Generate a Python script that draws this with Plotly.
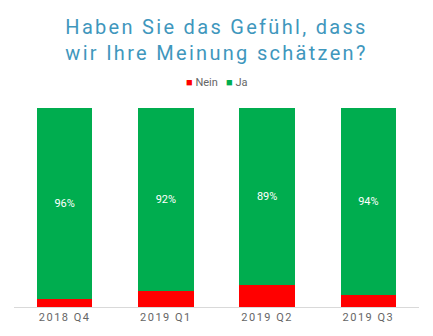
import plotly.graph_objects as go

quarters = ["2018 Q4", "2019 Q1", "2019 Q2", "2019 Q3"]
nein = [4, 8, 11, 6]
ja = [96, 92, 89, 94]
title_lines = ["Haben Sie das Gefühl, dass", "wir Ihre Meinung schätzen?"]

RED = "#ff0000"
GREEN = "#00ad4f"
GREY = "#666666"
TITLE_BLUE = "#3f97bd"


def spaced(text, px):
    return f'<span style="letter-spacing:{px}px">{text}</span>'


fig = go.Figure()
fig.add_trace(go.Bar(
    x=quarters, y=nein, name="Nein", marker=dict(color=RED, line=dict(width=0)),
    hoverinfo="skip", showlegend=False,
))
fig.add_trace(go.Bar(
    x=quarters, y=ja, name="Ja", marker=dict(color=GREEN, line=dict(width=0)),
    text=[f"{v}%" for v in ja], textposition="inside", insidetextanchor="middle",
    textfont=dict(color="white", size=11, family="Roboto"),
    hoverinfo="skip", showlegend=False,
))

# legend row drawn as coloured glyphs + labels
legend_text = (
    f'<span style="color:{RED}">■</span> Nein   '
    f'<span style="color:{GREEN}">■</span> Ja'
)

plot_h = 336 - 108 - 29

fig.update_layout(
    barmode="stack",
    bargap=0.45,
    width=433, height=336,
    margin=dict(l=14, r=14, t=108, b=29),
    paper_bgcolor="white", plot_bgcolor="white",
    font=dict(family="Roboto", color=GREY),
    title=dict(
        text="<br>".join(spaced(t, 2.3) for t in title_lines),
        x=0.5, xanchor="center", xref="paper",
        y=1 - 34 / 336, yanchor="middle", yref="container",
        font=dict(family="Roboto", size=20, color=TITLE_BLUE),
    ),
    annotations=[dict(
        text=legend_text, x=0.5, xref="paper", xanchor="center",
        y=1 + (108 - 82) / plot_h, yref="paper", yanchor="middle",
        showarrow=False,
        font=dict(family="Roboto", size=11, color=GREY),
    )],
    xaxis=dict(
        showline=True, linecolor="#d9d9d9", linewidth=1,
        showgrid=False, zeroline=False, ticks="",
        tickfont=dict(family="Roboto", size=11, color=GREY),
        ticktext=[spaced(q, 1.5) for q in quarters], tickvals=quarters,
    ),
    yaxis=dict(range=[0, 100], visible=False, showgrid=False, zeroline=False),
)

fig.write_html("out.html")
